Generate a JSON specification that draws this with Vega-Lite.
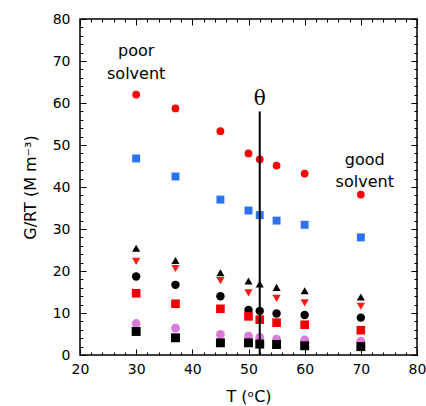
{
  "$schema": "https://vega.github.io/schema/vega-lite/v6.json",
  "width": 337,
  "height": 336,
  "autosize": "none",
  "padding": {"left": 80, "top": 19, "right": 9, "bottom": 51},
  "background": "white",
  "config": {
    "view": {"stroke": "black", "strokeWidth": 1.5},
    "font": "DejaVu Sans"
  },
  "datasets": {
    "pts": [
      {"T": 30, "G": 62.0, "s": "s1"}, {"T": 37, "G": 58.7, "s": "s1"}, {"T": 45, "G": 53.3, "s": "s1"}, {"T": 50, "G": 48.0, "s": "s1"},
      {"T": 52, "G": 46.6, "s": "s1"}, {"T": 55, "G": 45.1, "s": "s1"}, {"T": 60, "G": 43.2, "s": "s1"}, {"T": 70, "G": 38.2, "s": "s1"},
      {"T": 30, "G": 46.8, "s": "s2"}, {"T": 37, "G": 42.5, "s": "s2"}, {"T": 45, "G": 37.0, "s": "s2"}, {"T": 50, "G": 34.4, "s": "s2"},
      {"T": 52, "G": 33.3, "s": "s2"}, {"T": 55, "G": 32.0, "s": "s2"}, {"T": 60, "G": 31.0, "s": "s2"}, {"T": 70, "G": 28.0, "s": "s2"},
      {"T": 30, "G": 25.4, "s": "s3"}, {"T": 37, "G": 22.5, "s": "s3"}, {"T": 45, "G": 19.6, "s": "s3"}, {"T": 50, "G": 17.6, "s": "s3"},
      {"T": 52, "G": 16.9, "s": "s3"}, {"T": 55, "G": 16.1, "s": "s3"}, {"T": 60, "G": 15.3, "s": "s3"}, {"T": 70, "G": 13.8, "s": "s3"},
      {"T": 30, "G": 22.3, "s": "s4"}, {"T": 37, "G": 20.6, "s": "s4"}, {"T": 45, "G": 17.7, "s": "s4"}, {"T": 50, "G": 14.8, "s": "s4"},
      {"T": 55, "G": 13.5, "s": "s4"}, {"T": 60, "G": 12.4, "s": "s4"}, {"T": 70, "G": 11.6, "s": "s4"},
      {"T": 30, "G": 18.7, "s": "s5"}, {"T": 37, "G": 16.7, "s": "s5"}, {"T": 45, "G": 14.0, "s": "s5"}, {"T": 50, "G": 10.7, "s": "s5"},
      {"T": 52, "G": 10.5, "s": "s5"}, {"T": 55, "G": 9.9, "s": "s5"}, {"T": 60, "G": 9.5, "s": "s5"}, {"T": 70, "G": 8.9, "s": "s5"},
      {"T": 30, "G": 14.7, "s": "s6"}, {"T": 37, "G": 12.2, "s": "s6"}, {"T": 45, "G": 11.0, "s": "s6"}, {"T": 50, "G": 9.2, "s": "s6"},
      {"T": 52, "G": 8.4, "s": "s6"}, {"T": 55, "G": 7.7, "s": "s6"}, {"T": 60, "G": 7.2, "s": "s6"}, {"T": 70, "G": 5.9, "s": "s6"},
      {"T": 30, "G": 7.5, "s": "s7"}, {"T": 37, "G": 6.4, "s": "s7"}, {"T": 45, "G": 4.9, "s": "s7"}, {"T": 50, "G": 4.5, "s": "s7"},
      {"T": 52, "G": 4.2, "s": "s7"}, {"T": 55, "G": 3.8, "s": "s7"}, {"T": 60, "G": 3.6, "s": "s7"}, {"T": 70, "G": 3.3, "s": "s7"},
      {"T": 30, "G": 5.6, "s": "s8"}, {"T": 37, "G": 4.1, "s": "s8"}, {"T": 45, "G": 2.9, "s": "s8"}, {"T": 50, "G": 2.9, "s": "s8"},
      {"T": 52, "G": 2.6, "s": "s8"}, {"T": 55, "G": 2.5, "s": "s8"}, {"T": 60, "G": 2.2, "s": "s8"}, {"T": 70, "G": 2.0, "s": "s8"}
    ],
    "theta": [{"T": 52, "G0": 0, "G1": 58, "label": "θ", "Gl": 61}],
    "notes": [
      {"T": 30, "G": 72.5, "label": "poor"},
      {"T": 30, "G": 67.0, "label": "solvent"},
      {"T": 70.7, "G": 46.5, "label": "good"},
      {"T": 70.7, "G": 41.3, "label": "solvent"}
    ]
  },
  "resolve": {"axis": {"x": "independent", "y": "independent"}},
  "layer": [
    {
      "data": {"name": "pts"},
      "mark": {"type": "point", "filled": true, "opacity": 1},
      "encoding": {
        "x": {
          "field": "T", "type": "quantitative",
          "scale": {"domain": [20, 80], "nice": false, "zero": false},
          "axis": {
            "orient": "bottom", "title": "T (ᵒC)", "titleFontSize": 16, "titleFontWeight": "normal", "titleColor": "black", "titlePadding": 12,
            "values": [20,30,40,50,60,70,80],
            "labelFontSize": 14, "labelColor": "black", "labelPadding": 13, "labelFlush": false, "labelOverlap": false,
            "tickSize": -6, "tickColor": "black", "tickWidth": 1, "domain": false, "grid": false
          }
        },
        "y": {
          "field": "G", "type": "quantitative",
          "scale": {"domain": [0, 80], "nice": false},
          "axis": {
            "orient": "left", "title": "G/RT (M m⁻³)", "titleFontSize": 16, "titleFontWeight": "normal", "titleColor": "black", "titlePadding": 14,
            "values": [0,10,20,30,40,50,60,70,80],
            "labelFontSize": 14, "labelColor": "black", "labelPadding": 16, "labelFlush": false, "labelOverlap": false,
            "tickSize": -6, "tickColor": "black", "tickWidth": 1, "domain": false, "grid": false
          }
        },
        "color": {
          "field": "s", "type": "nominal", "legend": null,
          "scale": {"domain": ["s1","s2","s3","s4","s5","s6","s7","s8"],
                    "range": ["#ff0000","#2a72f0","#000000","#ff1a1a","#000000","#f00000","#da7ada","#000000"]}
        },
        "shape": {
          "field": "s", "type": "nominal", "legend": null,
          "scale": {"domain": ["s1","s2","s3","s4","s5","s6","s7","s8"],
                    "range": ["circle","square","triangle-up","triangle-down","circle","square","circle","square"]}
        },
        "size": {
          "field": "s", "type": "nominal", "legend": null,
          "scale": {"domain": ["s1","s2","s3","s4","s5","s6","s7","s8"],
                    "range": [60, 80, 75, 75, 60, 80, 60, 80]}
        }
      }
    },
    {
      "data": {"name": "theta"},
      "mark": {"type": "rule", "color": "black", "strokeWidth": 2},
      "encoding": {
        "x": {
          "field": "T", "type": "quantitative",
          "axis": {
            "orient": "top", "title": null, "labels": false, "domain": false, "grid": false,
            "values": [20,30,40,50,60,70,80],
            "tickSize": -6, "tickColor": "black", "tickWidth": 1
          }
        },
        "y": {
          "field": "G0", "type": "quantitative",
          "axis": {
            "orient": "right", "title": null, "labels": false, "domain": false, "grid": false,
            "values": [0,10,20,30,40,50,60,70,80],
            "tickSize": -6, "tickColor": "black", "tickWidth": 1
          }
        },
        "y2": {"field": "G1"}
      }
    },
    {
      "data": {"name": "theta"},
      "mark": {"type": "text", "font": "DejaVu Serif", "fontSize": 20, "color": "black", "baseline": "middle", "align": "center"},
      "encoding": {
        "x": {
          "field": "T", "type": "quantitative",
          "axis": {
            "orient": "bottom", "title": null, "labels": false, "domain": false, "grid": false,
            "values": [22,24,26,28,32,34,36,38,42,44,46,48,52,54,56,58,62,64,66,68,72,74,76,78],
            "tickSize": -3, "tickColor": "black", "tickWidth": 1
          }
        },
        "y": {
          "field": "Gl", "type": "quantitative",
          "axis": {
            "orient": "left", "title": null, "labels": false, "domain": false, "grid": false,
            "values": [2,4,6,8,12,14,16,18,22,24,26,28,32,34,36,38,42,44,46,48,52,54,56,58,62,64,66,68,72,74,76,78],
            "tickSize": -3, "tickColor": "black", "tickWidth": 1
          }
        },
        "text": {"field": "label"}
      }
    },
    {
      "data": {"name": "notes"},
      "mark": {"type": "text", "fontSize": 16, "color": "black", "baseline": "middle", "align": "center"},
      "encoding": {
        "x": {
          "field": "T", "type": "quantitative",
          "axis": {
            "orient": "top", "title": null, "labels": false, "domain": false, "grid": false,
            "values": [22,24,26,28,32,34,36,38,42,44,46,48,52,54,56,58,62,64,66,68,72,74,76,78],
            "tickSize": -3, "tickColor": "black", "tickWidth": 1
          }
        },
        "y": {
          "field": "G", "type": "quantitative",
          "axis": {
            "orient": "right", "title": null, "labels": false, "domain": false, "grid": false,
            "values": [2,4,6,8,12,14,16,18,22,24,26,28,32,34,36,38,42,44,46,48,52,54,56,58,62,64,66,68,72,74,76,78],
            "tickSize": -3, "tickColor": "black", "tickWidth": 1
          }
        },
        "text": {"field": "label"}
      }
    }
  ]
}
